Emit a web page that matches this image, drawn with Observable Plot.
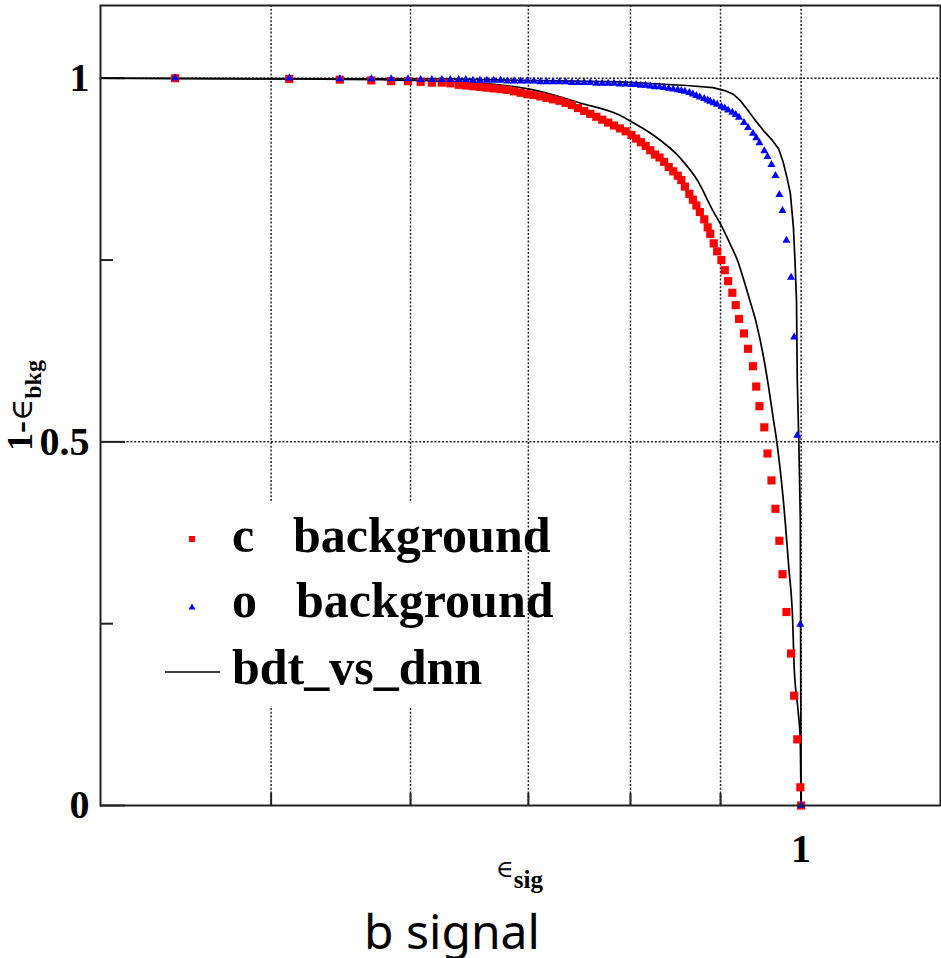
<!DOCTYPE html>
<html>
<head>
<meta charset="utf-8">
<script src="https://cdn.jsdelivr.net/npm/d3@7"></script>
<script src="https://cdn.jsdelivr.net/npm/@observablehq/plot@0.6"></script>
<style>
  body { margin: 0; background: #fff; }
  #wrap { width: 941px; height: 958px; position: relative; overflow: hidden; }
  #wrap svg { display: block; }
  #caption { font-family: "Noto Sans", sans-serif; font-size: 48px; line-height: 61px; height: 58px; padding-left: 364px; color: #000; white-space: nowrap; }
</style>
</head>
<body>
<div id="wrap"></div>
<script>
// signal efficiency (shared by both backgrounds)
const effSig = [0.441, 0.512, 0.547, 0.570, 0.585, 0.598, 0.608, 0.617, 0.625,
  0.632, 0.639, 0.645, 0.651, 0.657, 0.663, 0.669, 0.675, 0.681, 0.687, 0.693, 0.699, 0.705, 0.711, 0.717, 0.723, 0.729, 0.735, 0.741, 0.747, 0.753, 0.759, 0.765, 0.771, 0.777, 0.783, 0.789, 0.795, 0.801,
  0.806, 0.811, 0.816, 0.821, 0.826, 0.831, 0.836, 0.841, 0.846, 0.851,
  0.855, 0.859, 0.864, 0.868, 0.872, 0.876, 0.881, 0.885, 0.888, 0.892, 0.896, 0.901, 0.905, 0.909, 0.914, 0.918, 0.922,
  0.928, 0.933, 0.939, 0.943, 0.947, 0.953, 0.957, 0.962, 0.967, 0.972, 0.976, 0.981, 0.987, 0.991, 0.995, 0.999, 1.000];
// 1 - eps_bkg, c background
const rejC = [1.000, 0.999, 0.998, 0.997, 0.996, 0.996, 0.995, 0.994, 0.994,
  0.993, 0.991, 0.990, 0.989, 0.988, 0.987, 0.986, 0.985, 0.984, 0.982, 0.980, 0.978, 0.977, 0.975, 0.973, 0.971, 0.969, 0.966, 0.963, 0.959, 0.955, 0.951, 0.947, 0.943, 0.939, 0.935, 0.931, 0.927, 0.922,
  0.917, 0.912, 0.907, 0.901, 0.895, 0.891, 0.885, 0.878, 0.872, 0.866,
  0.860, 0.851, 0.841, 0.833, 0.825, 0.816, 0.806, 0.795, 0.786, 0.773, 0.762, 0.750, 0.736, 0.721, 0.705, 0.688, 0.669,
  0.649, 0.628, 0.604, 0.576, 0.549, 0.520, 0.484, 0.447, 0.408, 0.364, 0.318, 0.266, 0.209, 0.151, 0.091, 0.025, 0.000];
// 1 - eps_bkg, o background
const rejO = [1.000, 1.000, 0.999, 0.999, 0.999, 0.999, 0.998, 0.998, 0.998,
  0.998, 0.998, 0.998, 0.997, 0.997, 0.997, 0.997, 0.997, 0.996, 0.996, 0.996, 0.996, 0.996, 0.995, 0.995, 0.995, 0.995, 0.995, 0.994, 0.994, 0.994, 0.994, 0.993, 0.993, 0.993, 0.993, 0.992, 0.992, 0.991,
  0.991, 0.990, 0.990, 0.989, 0.988, 0.988, 0.987, 0.986, 0.985, 0.984,
  0.983, 0.982, 0.980, 0.978, 0.976, 0.974, 0.972, 0.970, 0.968, 0.966, 0.964, 0.961, 0.959, 0.956, 0.953, 0.950, 0.946,
  0.939, 0.932, 0.924, 0.918, 0.911, 0.900, 0.892, 0.881, 0.866, 0.840, 0.818, 0.777, 0.726, 0.644, 0.509, 0.249, 0.000];
// bdt_vs_dnn reference curves
const bdtEffC = [0.40, 0.52, 0.623, 0.701, 0.749, 0.789, 0.800, 0.824, 0.854, 0.873, 0.891, 0.902, 0.911, 0.920, 0.929, 0.935, 0.943, 0.952, 0.958, 0.964, 0.969, 0.977, 0.984, 0.989, 0.991, 0.996, 0.999, 1.000];
const bdtRejC = [1.000, 0.999, 0.996, 0.985, 0.966, 0.949, 0.941, 0.922, 0.890, 0.860, 0.818, 0.795, 0.773, 0.750, 0.718, 0.695, 0.664, 0.617, 0.578, 0.534, 0.498, 0.420, 0.328, 0.255, 0.190, 0.131, 0.089, 0.000];
const bdtEffO = [0.40, 0.623, 0.789, 0.861, 0.891, 0.905, 0.915, 0.923, 0.932, 0.942, 0.952, 0.962, 0.971, 0.977, 0.982, 0.986, 0.990, 0.992, 0.994, 0.995, 0.997, 0.999, 1.000];
const bdtRejO = [1.000, 0.999, 0.995, 0.990, 0.987, 0.983, 0.978, 0.970, 0.957, 0.942, 0.928, 0.916, 0.903, 0.884, 0.862, 0.842, 0.795, 0.750, 0.695, 0.585, 0.502, 0.392, 0.000];
// ticks / grid
const xGrid = [0.5, 0.6, 0.7, 0.8, 0.9, 1];
const xLabels = [1];
const yMajor = [0, 0.5, 1];
const yMinor = [0.25, 0.75];
const yGrid = [0.5, 1];
const legendLabels = [["c", "background"], ["o", "background"], ["bdt_vs_dnn", ""]];

const cData = effSig.map((x, i) => ({x, y: rejC[i]}));
const oData = effSig.map((x, i) => ({x, y: rejO[i]}));
const lineC = bdtEffC.map((x, i) => ({x, y: bdtRejC[i]}));
const lineO = bdtEffO.map((x, i) => ({x, y: bdtRejO[i]}));

const W = 941, H = 900;
const mL = 100, mR = 1, mT = 5, mB = 95;
const fw = W - mL - mR, fh = H - mT - mB;
const gridStyle = {stroke: "#222", strokeWidth: 1.5, strokeDasharray: "2,1.8"};
const serif = "'Liberation Serif', 'Times New Roman', serif";

const plot = Plot.plot({
  width: W, height: H,
  marginLeft: mL, marginRight: mR, marginTop: mT, marginBottom: mB,
  style: {fontFamily: serif, fontWeight: "bold", background: "white", overflow: "visible", color: "#000"},
  x: {type: "log", domain: [0.4, 1.2]},
  y: {domain: [0, 1.1]},
  marks: [
    Plot.ruleX(xGrid, {x: d => d, ...gridStyle}),
    Plot.ruleY(yGrid, {y: d => d, ...gridStyle}),
    Plot.tickY(yMajor, {y: d => d, insetRight: fw - 25, stroke: "#222", strokeWidth: 2}),
    Plot.tickY(yMinor, {y: d => d, insetRight: fw - 13, stroke: "#222", strokeWidth: 2}),
    Plot.tickX(xGrid, {x: d => d, insetTop: fh - 12, stroke: "#222", strokeWidth: 2}),
    Plot.line(lineC, {x: "x", y: "y", stroke: "#000", strokeWidth: 1.7, curve: "monotone-x"}),
    Plot.line(lineO, {x: "x", y: "y", stroke: "#000", strokeWidth: 1.7}),
    Plot.dot(cData, {x: "x", y: "y", symbol: "square", r: 4.6, fill: "#ff0000"}),
    Plot.dot(oData, {x: "x", y: "y", symbol: "triangle", r: 3, fill: "#0000ff"}),
    Plot.frame({stroke: "#222", strokeWidth: 2}),
    Plot.axisY(yMajor, {tickSize: 0, tickPadding: 11, fontSize: 40, fontWeight: "bold", tickFormat: d => String(d), label: null}),
    Plot.axisX(xLabels, {tickSize: 0, tickPadding: 28, fontSize: 40, fontWeight: "bold", tickFormat: d => String(d), label: null})
  ]
});

const svg = d3.select(plot);
// legend
const lg = svg.append("g").attr("text-anchor", "start");
lg.append("rect").attr("x", 150).attr("y", 503).attr("width", 355).attr("height", 203).attr("fill", "white");
lg.append("rect").attr("x", 189).attr("y", 536).attr("width", 6).attr("height", 6).attr("fill", "#ff0000");
lg.append("path").attr("d", "M192,603.5L195.5,609.5L188.5,609.5Z").attr("fill", "#0000ff");
lg.append("line").attr("x1", 165).attr("x2", 220).attr("y1", 672).attr("y2", 672).attr("stroke", "#000").attr("stroke-width", 1.6);
const rowY = [552, 617, 684];
const secondX = [293, 296, 0];
legendLabels.forEach(([a, b], i) => {
  lg.append("text").attr("x", 232).attr("y", rowY[i]).attr("text-anchor", "start").attr("font-family", serif).attr("font-weight", "bold").attr("font-size", 50).attr("fill", "#000").text(a);
  if (b) lg.append("text").attr("x", secondX[i]).attr("y", rowY[i]).attr("text-anchor", "start").attr("font-family", serif).attr("font-weight", "bold").attr("font-size", 50).attr("fill", "#000").text(b);
});
// y title
const yt = svg.append("text").attr("transform", "translate(32,451) rotate(-90)").attr("text-anchor", "start").attr("fill", "#000");
yt.append("tspan").attr("font-family", serif).attr("font-weight", "bold").attr("font-size", 36).text("1-");
yt.append("tspan").attr("font-family", "'DejaVu Serif', serif").attr("font-weight", "normal").attr("font-size", 30).text("∈");
yt.append("tspan").attr("font-family", serif).attr("font-weight", "bold").attr("font-size", 24).attr("dy", 9).text("bkg");
// x title
const xt = svg.append("text").attr("x", 496).attr("y", 877).attr("text-anchor", "start").attr("fill", "#000");
xt.append("tspan").attr("font-family", "'DejaVu Serif', serif").attr("font-weight", "normal").attr("font-size", 24).text("∈");
xt.append("tspan").attr("font-family", serif).attr("font-weight", "bold").attr("font-size", 25).attr("dy", 11).text("sig");

const wrap = document.getElementById("wrap");
wrap.append(plot);
const cap = document.createElement("div");
cap.id = "caption";
cap.textContent = "b signal";
wrap.append(cap);
</script>
</body>
</html>
